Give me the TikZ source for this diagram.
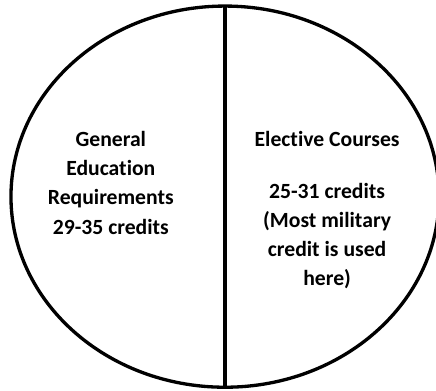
\documentclass[tikz,border=0pt]{standalone}
\usepackage{fontspec}
\setmainfont[Ligatures=NoCommon]{Carlito}

\tikzset{
    etiqueta/.style={anchor=north, align=center, inner sep=0pt,
        font=\bfseries\fontsize{16.3}{21.9}\selectfont}
}

\begin{document}
\begin{tikzpicture}
            \useasboundingbox (-5.95,-5.12) rectangle (5.58,5.20);

            % Elipse
            \draw[black, line width=2.5pt] (0,0) ellipse (5.66 and 5.04);

            % Linea divisoria
            \coordinate (arriba) at (0,5.04);
            \coordinate (abajo) at (0,-5.04);
            \draw[black, line width=2.5pt] (arriba) -- (abajo);

            % Textos
            \node[etiqueta] (generales) at (-3.02,1.73) {General\\Education\\Requirements\\29-35 credits};
            \node[etiqueta] (electivas) at (2.70,1.73) {Elective Courses\\[17pt]25-31 credits\\(Most military\\credit is used\\here)};
        \end{tikzpicture}
\end{document}
